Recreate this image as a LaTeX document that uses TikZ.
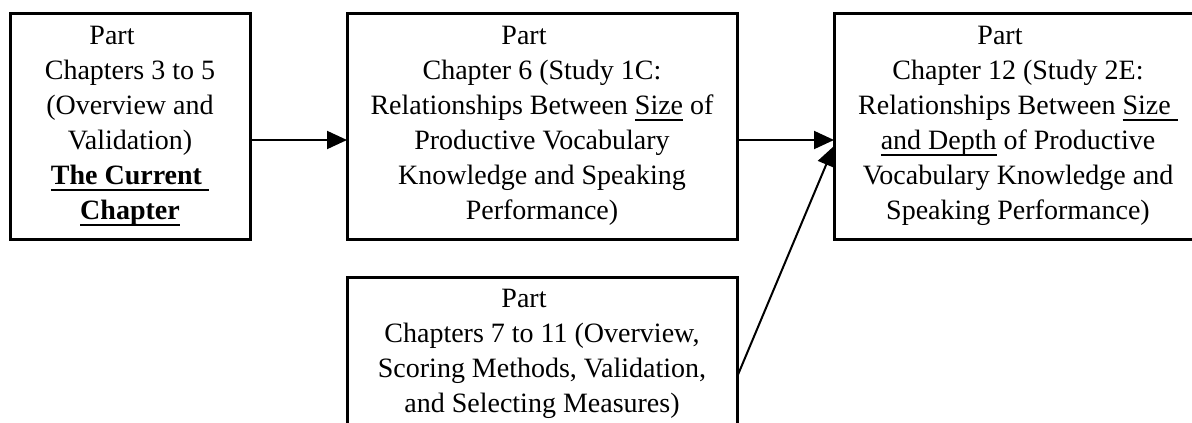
\documentclass[tikz,border=0pt]{standalone}
\usepackage{fontspec}
\setmainfont{Liberation Serif}
\usetikzlibrary{arrows.meta}

% underline drawn a fixed distance below the baseline
\newsavebox\ulsave
\newcommand{\ulin}[1]{\sbox\ulsave{#1}\rlap{\rule[-7pt]{\wd\ulsave}{2pt}}\usebox\ulsave}
\newcommand{\parthead}{Part\hspace*{36pt}}

\tikzset{
  box/.style={draw, line width=3pt, inner sep=0pt, outer sep=0pt},
  txt/.style={align=center, inner sep=0pt, anchor=base,
              font=\fontsize{28}{35}\selectfont},
  link/.style={line width=2pt, -{Triangle[length=20pt,width=18pt]}},
}

\begin{document}
\begin{tikzpicture}[x=1pt, y=-1pt]
  \useasboundingbox (0,0) rectangle (1192,423);
  \clip (0,0) rectangle (1192,423);

  % boxes
  \node[box, minimum width=240pt, minimum height=226pt] (b1) at (130,126) {};
  \node[box, minimum width=390pt, minimum height=226pt] (b2) at (542,126) {};
  \node[box, minimum width=368pt, minimum height=226pt] (b3) at (1018,126) {};
  \node[box, minimum width=390pt, minimum height=163pt] (b4) at (542,358.5) {};

  % box texts (anchored at the baseline of the last line)
  \node[txt] (t1) at ([yshift=-206pt]b1.north) {\parthead\\
    Chapters 3 to 5\\ (Overview and\\ Validation)\\
    {\bfseries\ulin{The Current\ }}\\ {\bfseries\ulin{Chapter}}};
  \node[txt] (t2) at ([yshift=-206pt]b2.north) {\parthead\\
    Chapter 6 (Study 1C:\\ Relationships Between \ulin{Size} of\\
    Productive Vocabulary\\ Knowledge and Speaking\\ Performance)};
  \node[txt] (t3) at ([yshift=-206pt]b3.north) {\parthead\\
    Chapter 12 (Study 2E:\\ Relationships Between \ulin{Size\ }\\
    \ulin{and Depth} of Productive\\ Vocabulary Knowledge and\\
    Speaking Performance)};
  \node[txt] (t4) at ([yshift=-135pt]b4.north) {\parthead\\
    Chapters 7 to 11 (Overview,\\ Scoring Methods, Validation,\\
    and Selecting Measures)};

  % connectors
  \draw[link] ([yshift=-14pt]b1.east) -- ([yshift=-14pt]b2.west);
  \draw[link] ([yshift=-14pt]b2.east) -- ([yshift=-14pt]b3.west);
  \draw[link] ([yshift=-100pt]b4.north east) -- ([yshift=-20pt]b3.west);
\end{tikzpicture}
\end{document}
